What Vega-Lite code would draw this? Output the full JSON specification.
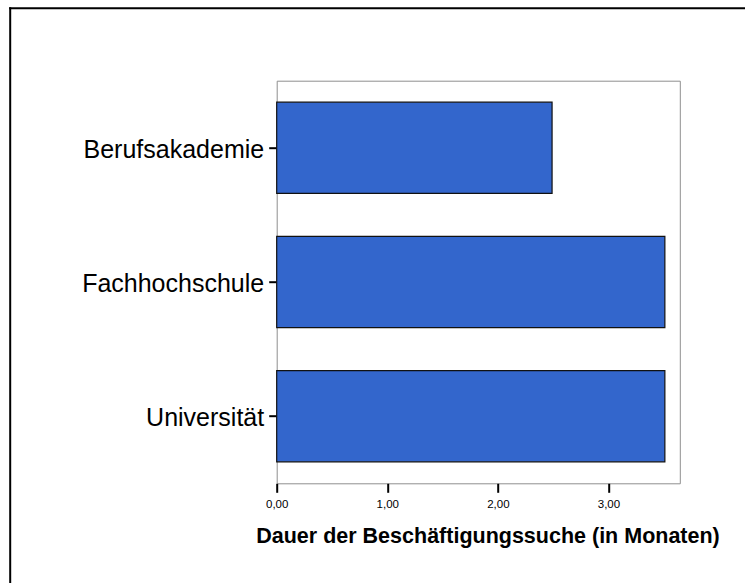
{
  "$schema": "https://vega.github.io/schema/vega-lite/v6.json",
  "autosize": {"type": "none"},
  "padding": {"left": 276.7, "top": 80.7, "right": 65.2, "bottom": 99.7},
  "width": 403.1,
  "height": 402.6,
  "background": "white",
  "config": {
    "view": {"stroke": "#8f8f8f", "strokeWidth": 1},
    "font": "Liberation Sans"
  },
  "layer": [
    {
      "data": {
        "values": [
          {"Abschluss": "Berufsakademie", "Dauer": 2.49},
          {"Abschluss": "Fachhochschule", "Dauer": 3.51},
          {"Abschluss": "Universität", "Dauer": 3.51}
        ]
      },
      "mark": {"type": "bar", "color": "#3366CC", "stroke": "#111111", "strokeWidth": 1.2},
      "encoding": {
        "y": {
          "field": "Abschluss",
          "type": "nominal",
          "sort": ["Berufsakademie", "Fachhochschule", "Universität"],
          "scale": {"paddingInner": 0.32, "paddingOuter": 0.16},
          "axis": {
            "title": null,
            "domain": false,
            "ticks": true,
            "tickSize": 8,
            "tickWidth": 2,
            "tickColor": "black",
            "labelFontSize": 25,
            "labelColor": "black",
            "labelPadding": 5,
            "labelOffset": 2,
            "labelLimit": 400,
            "labelFont": "Liberation Sans"
          }
        },
        "x": {
          "field": "Dauer",
          "type": "quantitative",
          "scale": {"domain": [0, 3.645], "nice": false},
          "axis": {
            "title": "Dauer der Beschäftigungssuche (in Monaten)",
            "values": [0, 1, 2, 3],
            "labelExpr": "replace(format(datum.value, '.2f'), '.', ',')",
            "grid": false,
            "domain": false,
            "tickSize": 9,
            "tickWidth": 2,
            "tickColor": "black",
            "labelFontSize": 11.5,
            "labelPadding": 6,
            "labelColor": "black",
            "labelFlush": false,
            "titleFontSize": 21.5,
            "titleFontWeight": "bold",
            "titleColor": "black",
            "titleLimit": 700,
            "titleX": 210.8,
            "titleY": 59.5,
            "titleBaseline": "alphabetic",
            "titleAlign": "center"
          }
        }
      }
    },
    {
      "data": {"values": [{"a": 0}]},
      "mark": {"type": "point", "opacity": 0},
      "encoding": {
        "x": {
          "datum": 0.5,
          "type": "quantitative",
          "scale": {"domain": [0, 1], "range": [-268, 468], "nice": false, "zero": false},
          "axis": {"orient": "top", "offset": 73, "domain": true, "domainColor": "black", "domainWidth": 2, "ticks": false, "labels": false, "grid": false, "title": null}
        },
        "y": {
          "datum": 0.5,
          "type": "quantitative",
          "scale": {"domain": [0, 1], "range": [-74, 502], "nice": false, "zero": false},
          "axis": {"orient": "left", "offset": 267, "domain": true, "domainColor": "black", "domainWidth": 2, "ticks": false, "labels": false, "grid": false, "title": null}
        }
      }
    }
  ],
  "resolve": {"scale": {"x": "independent", "y": "independent"}}
}
